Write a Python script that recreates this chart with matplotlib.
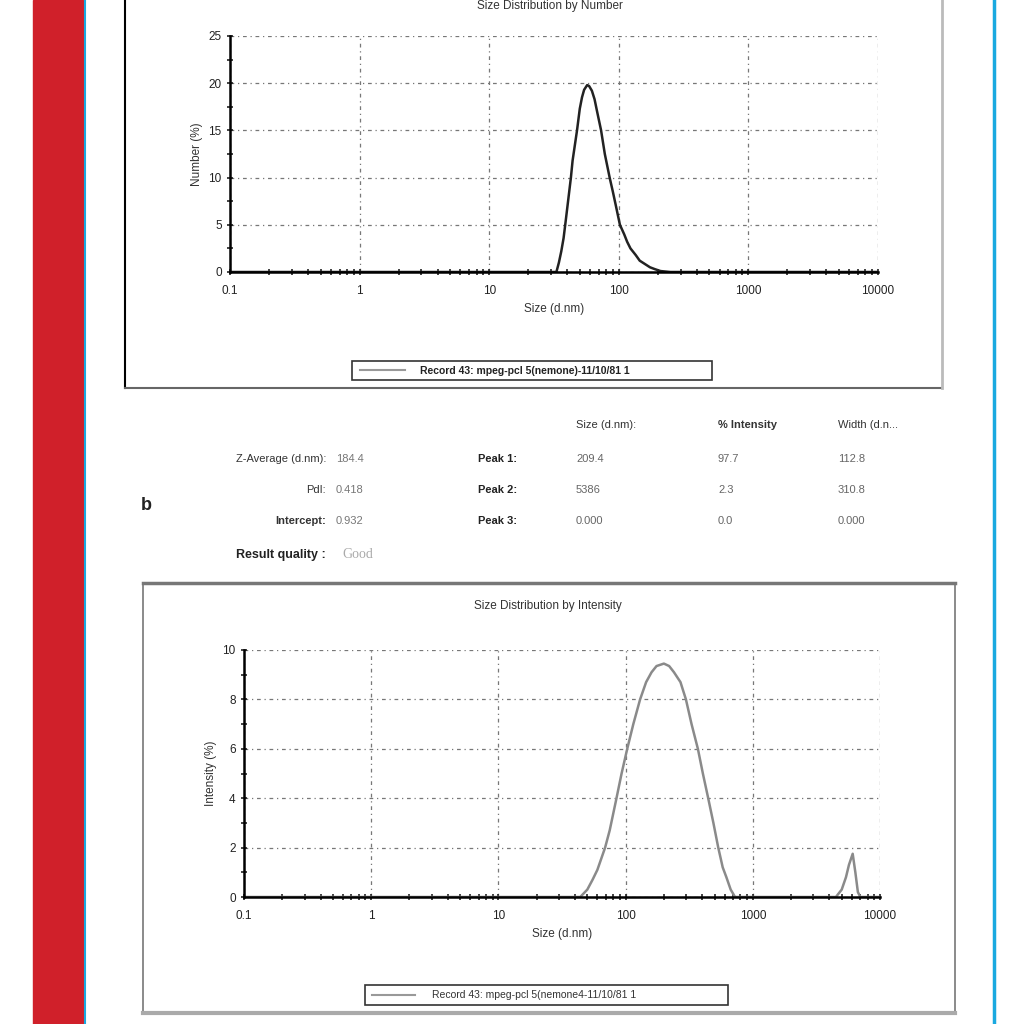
import matplotlib.pyplot as plt
import matplotlib.patches as patches
from matplotlib.ticker import LogLocator, NullFormatter, FixedLocator, FixedFormatter

plt.rcParams['font.family'] = ['Liberation Sans', 'DejaVu Sans']

# size distribution by number (top panel)
num_size = [0.1, 30, 33, 34.5, 36, 37.5, 39, 42.7, 44, 47.6, 50, 52, 54, 57, 59, 62, 65, 68, 73,
            78, 85, 90, 95, 102, 110, 116, 123, 135, 145, 174, 190, 210, 250, 10000]
num_pct = [0, 0, 0, 1, 2.2, 3.6, 5.5, 10, 11.8, 15, 17.3, 18.5, 19.3, 19.8, 19.7, 19.2, 18.3, 17, 15,
           12.5, 10, 8.5, 7, 5, 4, 3.2, 2.5, 1.8, 1.2, 0.5, 0.3, 0.1, 0, 0]

# size distribution by intensity (bottom panel)
int_size = [0.1, 44, 50, 55, 60, 69, 75, 84, 93, 103, 115, 130, 145, 160, 175, 200, 220, 240,
            270, 298, 330, 370, 405, 446, 490, 535, 580, 620, 670, 725,
            4500, 5000, 5400, 5700, 6100, 6400, 6700, 7000, 10000]
int_pct = [0, 0, 0.3, 0.7, 1.1, 2, 2.7, 3.9, 5, 6, 7, 8, 8.7, 9.1, 9.35, 9.45, 9.35, 9.1,
           8.7, 8, 7, 6, 5, 4, 3, 2, 1.2, 0.8, 0.3, 0,
           0, 0.3, 0.8, 1.3, 1.75, 1.0, 0.2, 0, 0]

x_ticks = [0.1, 1, 10, 100, 1000, 10000]
x_labels = ["0.1", "1", "10", "100", "1000", "10000"]

legend_label = "Record 43: mpeg-pcl 5(nemone)-11/10/81 1"
legend_label2 = "Record 43: mpeg-pcl 5(nemone4-11/10/81 1"

table_head = ["Size (d.nm):", "% Intensity", "Width (d.n..."]
left_labels = ["Z-Average (d.nm):", "PdI:", "Intercept:"]
left_values = ["184.4", "0.418", "0.932"]
peak_labels = ["Peak 1:", "Peak 2:", "Peak 3:"]
peak_size = ["209.4", "5386", "0.000"]
peak_int = ["97.7", "2.3", "0.0"]
peak_width = ["112.8", "310.8", "0.000"]

W = 1024.0


def rect(x0, y0, x1, y1):
    return [x0 / W, 1 - y1 / W, (x1 - x0) / W, (y1 - y0) / W]


fig = plt.figure(figsize=(10.24, 10.24), dpi=100)
bg = fig.add_axes([0, 0, 1, 1])
bg.set_xlim(0, W)
bg.set_ylim(W, 0)
bg.axis("off")

# page decoration
bg.add_patch(patches.Rectangle((33, 0), 50, W, color="#d0202a", zorder=1))
bg.plot([84.5, 84.5], [0, W], color="#1aa9e0", lw=1.5)
bg.plot([994, 994], [0, W], color="#1aa9e0", lw=2.5)

# top panel frame
bg.plot([125, 125], [0, 388], color="black", lw=1.5)
bg.plot([125, 942], [388, 388], color="#666666", lw=1.5)
bg.plot([942, 942], [0, 388], color="#bbbbbb", lw=2)

# bottom panel frame
bg.add_patch(patches.Rectangle((143, 583), 812, 430, fill=False, ec="#777777", lw=1.2))
bg.plot([143, 955], [583, 583], color="#777777", lw=2.5)
bg.plot([143, 955], [1013, 1013], color="#aaaaaa", lw=3)


def dls_axes(pos, xs, ys, ymax, ystep, ylabel, color, title, tx, ty):
    ax = fig.add_axes(pos)
    ax.plot(xs, ys, color=color, lw=1.8, solid_joinstyle="round")
    ax.set_xscale("log")
    ax.set_xlim(0.1, 10000)
    ax.set_ylim(0, ymax)
    ax.xaxis.set_major_locator(FixedLocator(x_ticks))
    ax.xaxis.set_major_formatter(FixedFormatter(x_labels))
    ax.xaxis.set_minor_locator(LogLocator(base=10, subs=range(2, 10), numticks=20))
    ax.xaxis.set_minor_formatter(NullFormatter())
    ax.set_yticks([i * ystep for i in range(int(ymax / ystep) + 1)])
    ax.set_yticks([i * ystep / 2 for i in range(int(2 * ymax / ystep) + 1)], minor=True)
    ax.grid(True, which="major", color="#777777", ls=(0, (3, 3, 1, 3)), lw=0.9)
    for s in ["top", "right"]:
        ax.spines[s].set_visible(False)
    for s in ["left", "bottom"]:
        ax.spines[s].set_linewidth(1.8)
    ax.tick_params(which="both", direction="inout", length=5, width=1.2, labelsize=8.5, colors="#222222")
    ax.tick_params(axis="x", pad=7)
    ax.set_xlabel("Size (d.nm)", fontsize=8.5, color="#333333")
    ax.set_ylabel(ylabel, fontsize=8.5, color="#333333")
    bg.text(tx, ty, title, ha="center", va="center", fontsize=8.5, color="#333333")
    return ax


ax1 = dls_axes(rect(230, 36, 878, 272), num_size, num_pct, 25, 5, "Number (%)", "#222222",
               "Size Distribution by Number", 550, 6)
ax2 = dls_axes(rect(244, 650, 880, 897), int_size, int_pct, 10, 2, "Intensity (%)", "#8a8a8a",
               "Size Distribution by Intensity", 548, 606)

# legends
bg.add_patch(patches.Rectangle((352, 361), 360, 19, fill=False, ec="#333333", lw=1.2))
bg.plot([360, 405], [370, 370], color="#999999", lw=1.5)
bg.text(420, 370.5, legend_label, fontsize=7.5, va="center", fontweight="bold", color="#222222")
bg.add_patch(patches.Rectangle((365, 985), 363, 20, fill=False, ec="#333333", lw=1.2))
bg.plot([372, 415], [995, 995], color="#999999", lw=1.5)
bg.text(432, 995.5, legend_label2, fontsize=7.5, va="center", color="#333333")

# results table
col_x = [576, 718, 838]
for x, h in zip(col_x, table_head):
    bg.text(x, 425, h, fontsize=8, va="center", color="#333333",
            fontweight="bold" if h.startswith("%") else "normal")
rows_y = [459, 490, 521]
for y, lab, val, pl, ps, pi, pw in zip(rows_y, left_labels, left_values, peak_labels,
                                       peak_size, peak_int, peak_width):
    bg.text(326, y, lab, ha="right", va="center", fontsize=8, color="#333333",
            fontweight="bold" if lab.startswith("Inter") else "normal")
    bg.text(336, y, val, va="center", fontsize=8, color="#777777")
    bg.text(478, y, pl, va="center", fontsize=8, color="#222222", fontweight="bold")
    bg.text(576, y, ps, va="center", fontsize=8, color="#666666")
    bg.text(718, y, pi, va="center", fontsize=8, color="#666666")
    bg.text(838, y, pw, va="center", fontsize=8, color="#666666")
bg.text(326, 555, "Result quality :", ha="right", va="center", fontsize=9, color="#222222",
        fontweight="bold")
bg.text(342, 555, "Good", va="center", fontsize=10, color="#aaaaaa", family="Liberation Serif")
bg.text(146, 506, "b", va="center", ha="center", fontsize=13, fontweight="bold", color="#222222")

fig.savefig("out.png", dpi=100)
